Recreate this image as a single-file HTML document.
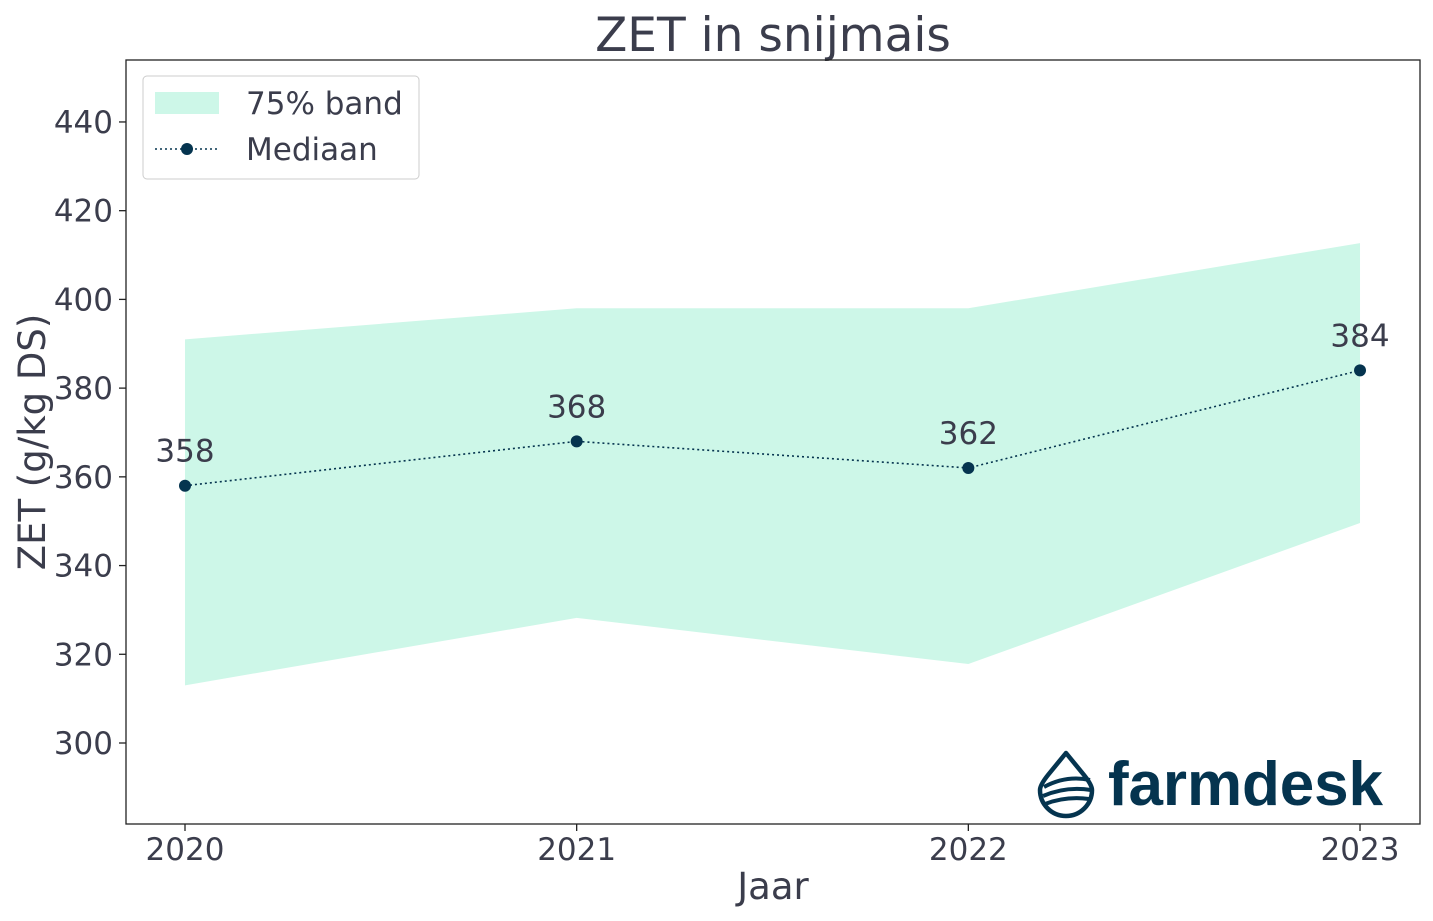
<!DOCTYPE html>
<html><head><meta charset="utf-8"><style>
body{margin:0;background:#fff;}
svg{display:block;font-family:"DejaVu Sans","Liberation Sans",sans-serif;}
</style></head><body>
<svg id="chart" width="1433" height="921" viewBox="0 0 1433 921">
<text x="773" y="51" font-size="47" fill="#3b3d4c" text-anchor="middle">ZET in snijmais</text>
<g id="band"></g>
<g id="line"></g>
<rect x="126" y="60" width="1294" height="764" fill="none" stroke="#222" stroke-width="1.3"/>
<g id="yticks"></g>
<g id="xticks"></g>
<text transform="translate(45,442) rotate(-90)" font-size="37" fill="#3b3d4c" text-anchor="middle">ZET (g/kg DS)</text>
<text x="773" y="899" font-size="37" fill="#3b3d4c" text-anchor="middle">Jaar</text>
<g>
<rect x="143" y="76" width="276" height="103" rx="4" fill="#fff" stroke="#ccc"/>
<rect x="155" y="92" width="64" height="22" fill="#cdf7e8"/>
<text x="246" y="114" font-size="31" fill="#3b3d4c">75% band</text>
<line x1="155" y1="149" x2="219" y2="149" stroke="#05344f" stroke-width="1.6" stroke-dasharray="2,3"/>
<circle cx="187" cy="149" r="6" fill="#05344f"/>
<text x="246" y="160" font-size="31" fill="#3b3d4c">Mediaan</text>
</g>
<g>
<path d="M1066 753 L1048 775 Q1040 785 1040 790 A26 26 0 0 0 1092 790 Q1092 785 1084 775 Z" fill="none" stroke="#05344f" stroke-width="4.5" stroke-linejoin="round"/>
<path d="M1044 787 Q1066 775 1090 780 M1043 796 Q1066 786 1091 790 M1045 804 Q1066 796 1089 799" fill="none" stroke="#05344f" stroke-width="4"/>
<text x="1108" y="805" font-size="62" font-weight="bold" fill="#05344f" font-family="Liberation Sans, sans-serif" textLength="275">farmdesk</text>
</g>
</svg>
<script>
const years=[2020,2021,2022,2023];
const median=[358,368,362,384];
const bandHigh=[391,398,398,412.7];
const bandLow=[313,328.2,317.8,349.6];
const yTicks=[300,320,340,360,380,400,420,440];
const ns="http://www.w3.org/2000/svg";
const X=v=>185+(v-2020)*391.67;
const Y=v=>743-(v-300)*4.436;
function mk(t,a,p){const e=document.createElementNS(ns,t);for(const k in a)e.setAttribute(k,a[k]);p.appendChild(e);return e;}
const band=document.getElementById('band');
let pts=years.map((y,i)=>X(y)+','+Y(bandHigh[i])).concat(years.slice().reverse().map((y,j)=>{const i=years.length-1-j;return X(y)+','+Y(bandLow[i]);}));
const poly=mk('polygon',{points:pts.join(' '),fill:'#cdf7e8'},band);


const line=document.getElementById('line');
const pl=mk('polyline',{points:years.map((y,i)=>X(y)+','+Y(median[i])).join(' '),fill:'none',stroke:'#05344f','stroke-width':1.6,'stroke-dasharray':'2,3'},line);


years.forEach((y,i)=>{
 const c=mk('circle',{cx:X(y),cy:Y(median[i]),r:6,fill:'#05344f'},line);
 
 
 const t=mk('text',{x:X(y),y:Y(median[i])-24,'font-size':31,fill:'#3b3d4c','text-anchor':'middle'},line);
 t.textContent=median[i];
 
 
});
const yt=document.getElementById('yticks');
yTicks.forEach(v=>{
 const l=mk('line',{x1:119,x2:126,y1:Y(v),y2:Y(v),stroke:'#222','stroke-width':1.3},yt);
 
 
 const t=mk('text',{x:113,y:Y(v)+11,'font-size':31,fill:'#3b3d4c','text-anchor':'end'},yt);
 t.textContent=v;
 
 
});
const xt=document.getElementById('xticks');
years.forEach(y=>{
 const l=mk('line',{x1:X(y),x2:X(y),y1:824,y2:831,stroke:'#222','stroke-width':1.3},xt);
 
 
 const t=mk('text',{x:X(y),y:860,'font-size':31,fill:'#3b3d4c','text-anchor':'middle'},xt);
 t.textContent=y;
 
 
});
</script>
</body></html>
